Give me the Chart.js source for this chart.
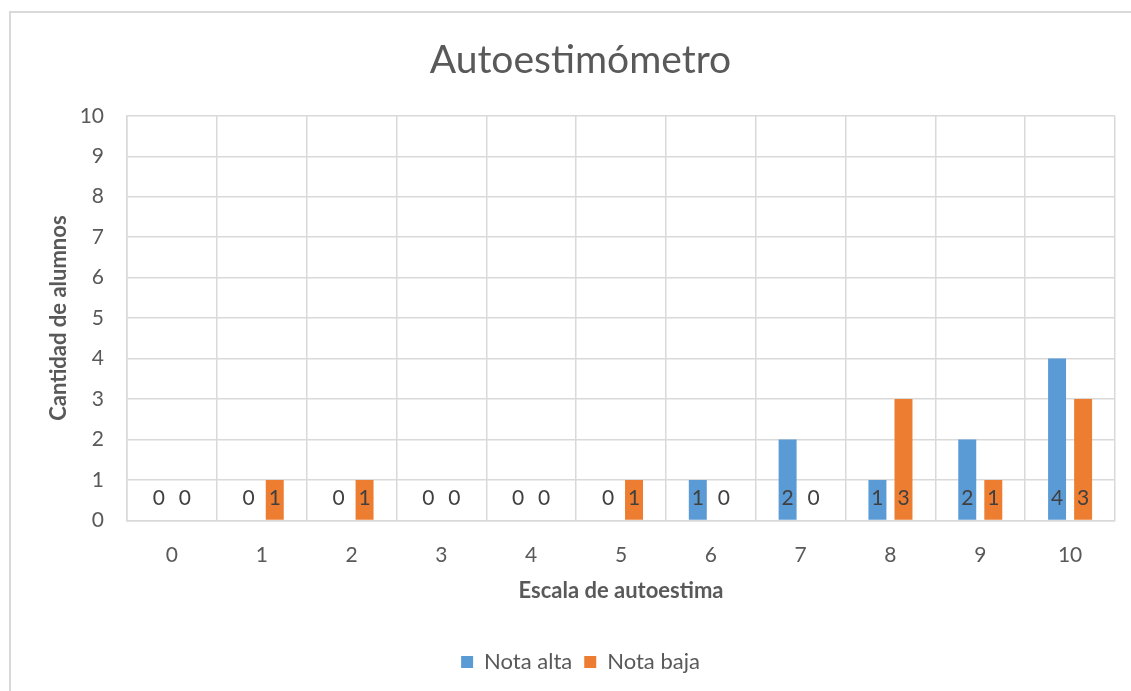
<!DOCTYPE html>
<html lang="es">
<head>
    <meta charset="UTF-8">
    <title>Autoestimómetro</title>
    <script src="https://cdn.jsdelivr.net/npm/chart.js"></script>
    <style>
        body {
            margin: 0;
            background: white;
            overflow: hidden;
        }
        .frame {
            position: absolute;
            left: 9px;
            top: 11px;
            width: 1200px;
            height: 800px;
            border: 2px solid #d9d9d9;
        }
        canvas {
            position: absolute;
            left: 0;
            top: 0;
        }
    </style>
</head>
<body>
    <div class="frame"></div>
    <canvas id="chart" width="1131" height="691"></canvas>

    <script>
        const categories = ['0', '1', '2', '3', '4', '5', '6', '7', '8', '9', '10'];
        const notaAlta = [0, 0, 0, 0, 0, 0, 1, 2, 1, 2, 4];
        const notaBaja = [0, 1, 1, 0, 0, 1, 0, 0, 3, 1, 3];

        const FONT = 'Lato, "Open Sans", sans-serif';
        const GRAY = '#595959';

        // labels drawn at the inside base of every bar, like Excel's "inside base"
        const baseLabels = {
            id: 'baseLabels',
            afterDatasetsDraw(chart) {
                const ctx = chart.ctx;
                const yZero = chart.scales.y.getPixelForValue(0);
                ctx.save();
                ctx.font = '21px ' + FONT;
                ctx.fillStyle = '#404040';
                ctx.textAlign = 'center';
                ctx.textBaseline = 'middle';
                chart.data.datasets.forEach((ds, i) => {
                    chart.getDatasetMeta(i).data.forEach((bar, j) => {
                        ctx.fillText(ds.data[j], bar.x, yZero - 22);
                    });
                });
                ctx.restore();
            }
        };

        new Chart(document.getElementById('chart'), {
            type: 'bar',
            data: {
                labels: categories,
                datasets: [{
                    label: 'Nota alta',
                    data: notaAlta,
                    backgroundColor: '#5b9bd5',
                    categoryPercentage: 0.58,
                    barPercentage: 0.69
                }, {
                    label: 'Nota baja',
                    data: notaBaja,
                    backgroundColor: '#ed7d31',
                    categoryPercentage: 0.58,
                    barPercentage: 0.69
                }]
            },
            options: {
                responsive: false,
                animation: false,
                layout: {
                    padding: { left: 46, right: 16, top: 30, bottom: 8 }
                },
                plugins: {
                    title: {
                        display: true,
                        text: 'Autoestimómetro',
                        color: GRAY,
                        font: { family: FONT, size: 39, weight: 'normal' },
                        padding: { top: 7, bottom: 32 }
                    },
                    legend: {
                        position: 'bottom',
                        labels: {
                            color: GRAY,
                            font: { family: FONT, size: 22 },
                            boxWidth: 12,
                            boxHeight: 12,
                            padding: 12
                        }
                    },
                    tooltip: { enabled: false }
                },
                scales: {
                    x: {
                        grid: { color: '#d9d9d9', lineWidth: 1.5, offset: true, drawTicks: false },
                        border: { color: '#d9d9d9', width: 1.5 },
                        ticks: { color: GRAY, font: { family: FONT, size: 21 }, padding: 22 },
                        title: {
                            display: true,
                            text: 'Escala de autoestima',
                            color: GRAY,
                            font: { family: FONT, size: 22, weight: 'bold' },
                            padding: { top: 10, bottom: 35 }
                        },
                        afterFit(scale) { scale.height -= 22; }
                    },
                    y: {
                        min: 0,
                        max: 10,
                        grid: { color: '#d9d9d9', lineWidth: 1.5, drawTicks: false },
                        border: { color: '#d9d9d9', width: 1.5 },
                        ticks: { stepSize: 1, color: GRAY, font: { family: FONT, size: 21 }, padding: 23 },
                        title: {
                            display: true,
                            text: 'Cantidad de alumnos',
                            color: GRAY,
                            font: { family: FONT, size: 22, weight: 'bold' },
                            padding: { top: 0, bottom: 8 }
                        },
                        afterFit(scale) { scale.width = 81; }
                    }
                }
            },
            plugins: [baseLabels]
        });
    </script>
</body>
</html>
